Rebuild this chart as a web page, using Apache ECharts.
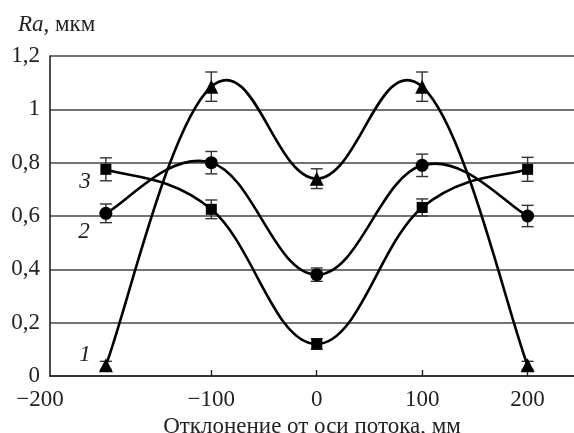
<!DOCTYPE html>
<html>
<head>
<meta charset="utf-8">
<script src="https://cdn.jsdelivr.net/npm/echarts@6/dist/echarts.min.js"></script>
<style>
  html, body { margin: 0; padding: 0; background: #fff; }
  #chart { width: 574px; height: 433px; }
</style>
</head>
<body>
<div id="chart"></div>
<script>
// Offset from the flow axis, mm
const positions = [-200, -100, 0, 100, 200];

// Ra, µm — three curves with their error half-widths
const curve1 = [0.04, 1.085, 0.74, 1.085, 0.04];
const curve1Err = [0.015, 0.055, 0.037, 0.055, 0.015];
const curve2 = [0.61, 0.80, 0.38, 0.79, 0.60];
const curve2Err = [0.035, 0.042, 0.025, 0.042, 0.04];
const curve3 = [0.775, 0.625, 0.12, 0.632, 0.775];
const curve3Err = [0.043, 0.035, 0.02, 0.032, 0.045];

const curveNames = ['1', '2', '3'];
const xTickValues = [-100, 0, 100, 200];
const xCornerLabel = '−200';
const yTickValues = [0, 0.2, 0.4, 0.6, 0.8, 1, 1.2];

const FONT = '"Liberation Serif", "DejaVu Serif", serif';
const FS = 23;
const X_MIN = -253, X_MAX = 244;
const TENSION = 0.2;   // cardinal spline tension (1/6 = Catmull-Rom)

function pairs(ys) { return positions.map((x, i) => [x, ys[i]]); }
function errPairs(ys, es) { return positions.map((x, i) => [x, ys[i] - es[i], ys[i] + es[i]]); }

// One item per segment: previous, start, end and following point (ends clamped)
function segments(ys) {
  const n = positions.length, out = [];
  for (let i = 0; i < n - 1; i++) {
    const a = Math.max(i - 1, 0), d = Math.min(i + 2, n - 1);
    out.push([positions[a], ys[a], positions[i], ys[i], positions[i + 1], ys[i + 1], positions[d], ys[d]]);
  }
  return out;
}

function splineCurve(name, ys) {
  return {
    type: 'custom',
    name: name + '-curve',
    z: 4,
    silent: true,
    data: segments(ys),
    encode: { x: [0, 2, 4, 6], y: [1, 3, 5, 7] },
    renderItem: function (params, api) {
      const p = [0, 1, 2, 3].map(k => api.coord([api.value(2 * k), api.value(2 * k + 1)]));
      const p0 = p[0], p1 = p[1], p2 = p[2], p3 = p[3];
      return {
        type: 'bezierCurve',
        shape: {
          x1: p1[0], y1: p1[1], x2: p2[0], y2: p2[1],
          cpx1: p1[0] + (p2[0] - p0[0]) * TENSION, cpy1: p1[1] + (p2[1] - p0[1]) * TENSION,
          cpx2: p2[0] - (p3[0] - p1[0]) * TENSION, cpy2: p2[1] - (p3[1] - p1[1]) * TENSION
        },
        style: { stroke: '#000', lineWidth: 2.6, fill: 'none' }
      };
    }
  };
}

function errorBars(name, ys, es) {
  return {
    type: 'custom',
    name: name + '-err',
    z: 3,
    silent: true,
    data: errPairs(ys, es),
    encode: { x: 0, y: [1, 2] },
    renderItem: function (params, api) {
      const x = api.value(0);
      const lo = api.coord([x, api.value(1)]);
      const hi = api.coord([x, api.value(2)]);
      const cap = 6;
      const style = { stroke: '#333', lineWidth: 1.4 };
      return {
        type: 'group',
        children: [
          { type: 'line', shape: { x1: lo[0], y1: lo[1], x2: hi[0], y2: hi[1] }, style: style },
          { type: 'line', shape: { x1: lo[0] - cap, y1: lo[1], x2: lo[0] + cap, y2: lo[1] }, style: style },
          { type: 'line', shape: { x1: hi[0] - cap, y1: hi[1], x2: hi[0] + cap, y2: hi[1] }, style: style }
        ]
      };
    }
  };
}

function markers(name, ys, symbol, size) {
  return {
    type: 'scatter',
    name: name,
    z: 5,
    data: pairs(ys),
    symbol: symbol,
    symbolSize: size,
    itemStyle: { color: '#000', opacity: 1 }
  };
}

const chart = echarts.init(document.getElementById('chart'), null, { renderer: 'canvas' });

chart.setOption({
  animation: false,
  backgroundColor: '#fff',
  grid: { left: 50, right: 0, top: 56, bottom: 57, containLabel: false, outerBoundsMode: 'none' },
  xAxis: {
    type: 'value',
    min: X_MIN,
    max: X_MAX,
    name: 'Отклонение от оси потока, мм',
    nameLocation: 'middle',
    nameGap: 28,
    nameTextStyle: { fontFamily: FONT, fontSize: FS, color: '#222' },
    axisLine: { show: true, onZero: false, lineStyle: { color: '#222', width: 1.6 } },
    axisTick: { show: true, inside: true, length: 6, customValues: xTickValues, lineStyle: { color: '#222', width: 1.4 } },
    axisLabel: {
      customValues: [X_MIN].concat(xTickValues),
      margin: 12,
      fontFamily: FONT,
      fontSize: FS,
      color: '#222',
      formatter: function (v) {
        if (v === X_MIN) return '{c|' + xCornerLabel + '}';
        return String(v).replace('-', '−');
      },
      rich: { c: { fontFamily: FONT, fontSize: FS, color: '#222', padding: [0, 20, 0, 0] } }
    },
    splitLine: { show: false }
  },
  yAxis: {
    type: 'value',
    min: 0,
    max: 1.2,
    interval: 0.2,
    axisLine: { show: true, onZero: false, lineStyle: { color: '#222', width: 1.6 } },
    axisTick: { show: false },
    axisLabel: {
      margin: 10,
      fontFamily: FONT,
      fontSize: FS,
      color: '#222',
      customValues: yTickValues,
      formatter: function (v) { return String(Math.round(v * 10) / 10).replace('.', ','); }
    },
    splitLine: { show: true, lineStyle: { color: '#444', width: 1.5 } }
  },
  graphic: [
    {
      type: 'text', left: 18, top: 13,
      style: {
        text: '{i|Ra}, мкм',
        font: FS + 'px ' + FONT,
        fill: '#222',
        rich: { i: { fontStyle: 'italic', fontFamily: FONT, fontSize: FS, fill: '#222' } }
      }
    },
    { type: 'text', x: 85, y: 355, style: { text: curveNames[0], font: 'italic ' + FS + 'px ' + FONT, fill: '#222', align: 'center', verticalAlign: 'middle' } },
    { type: 'text', x: 84, y: 232, style: { text: curveNames[1], font: 'italic ' + FS + 'px ' + FONT, fill: '#222', align: 'center', verticalAlign: 'middle' } },
    { type: 'text', x: 85, y: 182, style: { text: curveNames[2], font: 'italic ' + FS + 'px ' + FONT, fill: '#222', align: 'center', verticalAlign: 'middle' } }
  ],
  series: [
    errorBars(curveNames[0], curve1, curve1Err),
    errorBars(curveNames[1], curve2, curve2Err),
    errorBars(curveNames[2], curve3, curve3Err),
    splineCurve(curveNames[0], curve1),
    splineCurve(curveNames[1], curve2),
    splineCurve(curveNames[2], curve3),
    markers(curveNames[0], curve1, 'triangle', 14),
    markers(curveNames[1], curve2, 'circle', 13),
    markers(curveNames[2], curve3, 'rect', 11)
  ]
});
</script>
</body>
</html>
